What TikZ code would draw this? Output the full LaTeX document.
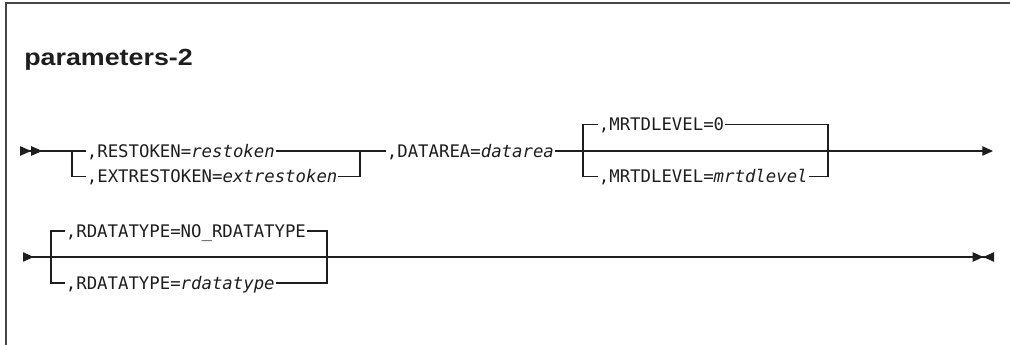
\documentclass[tikz,border=0pt]{standalone}
\usepackage{fontspec}
\setmainfont{Liberation Sans}
\newfontfamily\railfont{DejaVu Sans Mono}
\newfontfamily\headfont[FakeStretch=1.15]{Liberation Sans}
\usetikzlibrary{positioning,arrows.meta,calc}
\definecolor{railink}{RGB}{30,30,30}
\definecolor{framegray}{RGB}{70,70,70}
\tikzset{
  kw/.style={anchor=west, inner xsep=0.5pt, inner ysep=0pt, text height=9.5pt, text depth=0pt,
             font=\railfont\fontsize{13}{15}\selectfont, text=railink},
  rail/.style={line width=0.9pt, draw=railink},
  ttl/.style={anchor=base west, inner sep=0pt, font=\headfont\bfseries\fontsize{17.5}{20}\selectfont, text=railink},
  frame/.style={line width=1.4pt, draw=framegray}
}

\begin{document}
\begin{tikzpicture}[x=0.75pt, y=-0.75pt]
    \useasboundingbox (0,0) rectangle (1010,345);
    \draw[frame] (1010,3) -- (6,3) -- (6,345);
    \node[ttl] (title) at (24,65.5) {parameters-2};
    % first line
    \coordinate (s1) at (20,151);
    \coordinate (j1b) at (72,176.5);
    \coordinate (k1b) at (360,176.5);
    \coordinate (j2b) at (583,176.5);
    \coordinate (k2b) at (828,176.5);
    \coordinate (e1) at (993,151);
    \node[kw] (rt) at (86,151) {,RESTOKEN=\textit{restoken}};
    \node[kw] (ert) at (86,176.5) {,EXTRESTOKEN=\textit{extrestoken}};
    \node[kw] (da) at (386,151) {,DATAREA=\textit{datarea}};
    \node[kw] (ml0) at (598,124.5) {,MRTDLEVEL=0};
    \node[kw] (mlv) at (598,176.5) {,MRTDLEVEL=\textit{mrtdlevel}};
    \draw[rail, {Triangle[reversed,length=8.4pt,width=7pt]Triangle[reversed,length=8.4pt,width=7pt]}-] (s1) -- (rt.west);
    \draw[rail] (rt.west -| j1b) |- (ert.west);
    \draw[rail] (rt.east) -- (da.west);
    \draw[rail] (ert.east) -| (k1b |- rt.east);
    \draw[rail, -{Triangle[length=8pt,width=7pt]}] (da.east) -- (e1);
    \draw[rail] (ml0.west) -| (j2b) -- (mlv.west);
    \draw[rail] (ml0.east) -| (k2b) -- (mlv.east);
    % second line
    \coordinate (s2) at (23,257);
    \coordinate (e2) at (994,257);
    \coordinate (j3b) at (51,283);
    \coordinate (k3b) at (327,283);
    \node[kw] (rdn) at (65,231) {,RDATATYPE=NO\_RDATATYPE};
    \node[kw] (rdt) at (65,283) {,RDATATYPE=\textit{rdatatype}};
    \draw[rail, {Triangle[reversed,length=8pt,width=7pt]}-{Triangle[length=8pt,width=7pt]Triangle[reversed,length=8pt,width=7pt]}] (s2) -- (e2);
    \draw[rail] (rdn.west) -| (j3b) -- (rdt.west);
    \draw[rail] (rdn.east) -| (k3b) -- (rdt.east);
\end{tikzpicture}
\end{document}
